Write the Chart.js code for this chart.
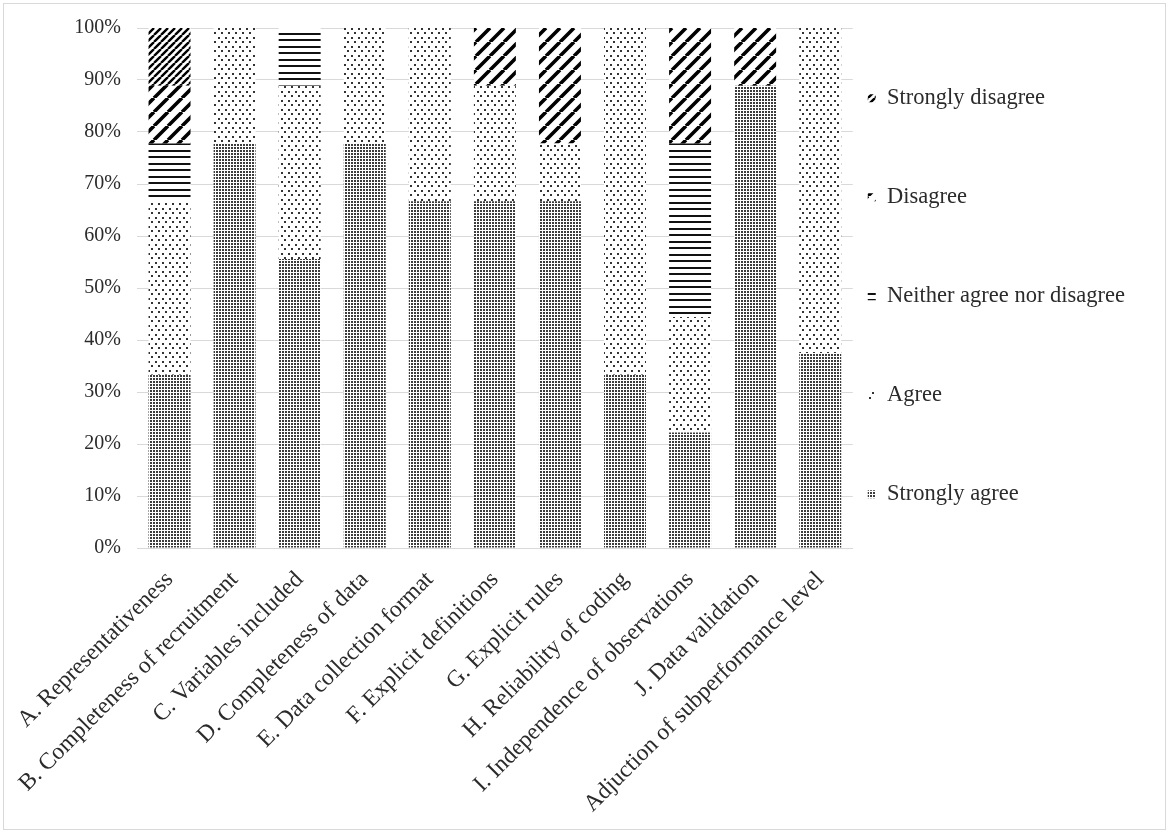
<!DOCTYPE html>
<html>
<head>
<meta charset="utf-8">
<script src="https://cdn.jsdelivr.net/npm/chart.js@4.4.1/dist/chart.umd.min.js"></script>
<style>
  html, body { margin: 0; padding: 0; background: #fff; }
  #frame { position: absolute; left: 3px; top: 3px; width: 1161px; height: 825px; border: 1px solid #d9d9d9; }
  #wrap { position: absolute; left: 0; top: 0; width: 1169px; height: 832px; }
</style>
</head>
<body>
<div id="frame"></div>
<div id="wrap"><canvas id="c" width="1169" height="832"></canvas></div>
<script>
// Survey items (x categories)
const categories = [
  'A. Representativeness',
  'B. Completeness of recruitment',
  'C. Variables included',
  'D. Completeness of data',
  'E. Data collection format',
  'F. Explicit definitions',
  'G. Explicit rules',
  'H. Reliability of coding',
  'I. Independence of observations',
  'J. Data validation',
  'Adjuction of subperformance level'
];

// Share of responses per answer, in percent
const stronglyAgree    = [33.33, 77.78, 55.56, 77.78, 66.67, 66.67, 66.67, 33.33, 22.22, 88.89, 37.5];
const agree            = [33.33, 22.22, 33.33, 22.22, 33.33, 22.22, 11.11, 66.67, 22.22, 0, 62.5];
const neither          = [11.11, 0, 11.11, 0, 0, 0, 0, 0, 33.33, 0, 0];
const disagree         = [11.11, 0, 0, 0, 0, 11.11, 22.22, 0, 22.22, 11.11, 0];
const stronglyDisagree = [11.11, 0, 0, 0, 0, 0, 0, 0, 0, 0, 0];

const seriesNames = ['Strongly agree', 'Agree', 'Neither agree nor disagree', 'Disagree', 'Strongly disagree'];

// Y axis: 0% .. 100% in steps of 10
const yMax = 100;
const yStep = 10;

const FONT = "'Liberation Serif', 'Times New Roman', serif";
const TEXT = '#2b2b2b';
const GRID = '#d9d9d9';

const canvas = document.getElementById('c');
const ctx = canvas.getContext('2d');

// Monochrome fill patterns, one per answer
function makePattern(w, h, draw) {
  const t = document.createElement('canvas');
  t.width = w; t.height = h;
  const g = t.getContext('2d');
  g.fillStyle = '#fff';
  g.fillRect(0, 0, w, h);
  draw(g, w, h);
  return ctx.createPattern(t, 'repeat');
}
function diagonal(size, width) {
  return makePattern(size, size, (g, w, h) => {
    g.strokeStyle = '#000';
    g.lineWidth = width;
    g.beginPath();
    for (const x0 of [-size, 0, size]) {
      g.moveTo(x0, h);
      g.lineTo(x0 + w, 0);
    }
    g.stroke();
  });
}
const fills = [
  makePattern(3, 3, g => { g.fillStyle = '#3c3c3c'; g.fillRect(0, 0, 2, 2); }),
  makePattern(7, 9, g => { g.fillStyle = '#333'; g.fillRect(1, 1, 2, 2); g.fillRect(4, 5, 2, 2); }),
  makePattern(4, 13, g => { g.fillStyle = '#111'; g.fillRect(0, 0, 4, 2); g.fillRect(0, 7, 4, 2); }),
  diagonal(14, 3.6),
  diagonal(7, 2.4)
];

const seriesValues = [stronglyAgree, agree, neither, disagree, stronglyDisagree];

const datasets = seriesNames.map((name, i) => ({
  label: name,
  data: seriesValues[i],
  backgroundColor: fills[i],
  borderWidth: 0,
  barPercentage: 0.645,
  categoryPercentage: 1.0
}));

new Chart(canvas, {
  type: 'bar',
  data: { labels: categories, datasets },
  options: {
    responsive: false,
    animation: false,
    layout: { padding: { left: 0, right: 34, top: 27, bottom: 0 } },
    scales: {
      x: {
        stacked: true,
        grid: { display: false },
        border: { display: true, color: GRID, width: 1 },
        ticks: {
          color: TEXT,
          font: { family: FONT, size: 23.5 },
          minRotation: 45,
          maxRotation: 45,
          autoSkip: false,
          padding: 10
        },
        afterFit: s => { s.height = 284; }
      },
      y: {
        stacked: true,
        min: 0,
        max: yMax,
        grid: { color: GRID, lineWidth: 1, drawTicks: false },
        border: { display: false },
        ticks: {
          stepSize: yStep,
          color: TEXT,
          font: { family: FONT, size: 20 },
          padding: 16,
          callback: v => v + '%'
        },
        afterFit: s => { s.width = 137; }
      }
    },
    plugins: {
      tooltip: { enabled: false },
      legend: {
        position: 'right',
        align: 'start',
        title: { display: true, text: '', font: { size: 10, lineHeight: 1.2 }, padding: { top: 33, bottom: 0 } },
        labels: {
          boxWidth: 8,
          boxHeight: 8,
          padding: 15,
          color: TEXT,
          font: { family: FONT, size: 22.5, lineHeight: '84px' },
          generateLabels: chart => {
            const items = Chart.defaults.plugins.legend.labels.generateLabels(chart);
            return items.map(it => Object.assign({}, it, { text: [it.text], lineWidth: 0 })).reverse();
          }
        }
      }
    }
  }
});
</script>
</body>
</html>
